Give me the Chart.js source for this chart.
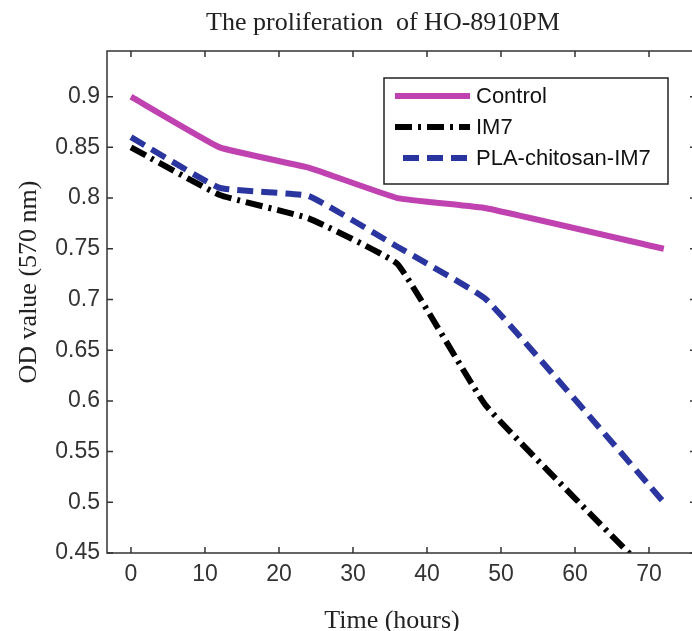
<!DOCTYPE html>
<html>
<head>
<meta charset="utf-8">
<script src="https://cdn.jsdelivr.net/npm/chart.js@4.4.1/dist/chart.umd.min.js"></script>
<style>
  html, body { margin: 0; padding: 0; background: #fff; overflow: hidden; }
  canvas { display: block; }
</style>
</head>
<body>
<canvas id="odChart" width="700" height="631"></canvas>
<script>
const hours = [0, 12, 24, 36, 48, 72];
const control = [0.90, 0.85, 0.83, 0.80, 0.79, 0.75];
const im7 = [0.85, 0.803, 0.78, 0.735, 0.595, 0.415];
const plaChitosan = [0.86, 0.81, 0.802, 0.752, 0.70, 0.50];
const seriesNames = ["Control", "IM7", "PLA-chitosan-IM7"];
const xTicks = [0, 10, 20, 30, 40, 50, 60, 70];
const yTicks = [0.45, 0.5, 0.55, 0.6, 0.65, 0.7, 0.75, 0.8, 0.85, 0.9];

function toPoints(values) {
  return hours.map((h, i) => ({ x: h, y: values[i] }));
}

// matlab-like box with inward ticks, legend box and the text labels
const framePlugin = {
  id: "frame",
  afterDatasetsDraw(chart) {
    const { ctx, chartArea: a, scales: { x, y } } = chart;
    ctx.save();
    ctx.strokeStyle = "#333";
    ctx.lineWidth = 1.5;
    ctx.strokeRect(a.left, a.top, a.right - a.left, a.bottom - a.top);
    ctx.beginPath();
    x.ticks.forEach(t => {
      const px = x.getPixelForValue(t.value);
      ctx.moveTo(px, a.bottom); ctx.lineTo(px, a.bottom - 6);
      ctx.moveTo(px, a.top); ctx.lineTo(px, a.top + 6);
    });
    y.ticks.forEach(t => {
      const py = y.getPixelForValue(t.value);
      ctx.moveTo(a.left, py); ctx.lineTo(a.left + 6, py);
      ctx.moveTo(a.right, py); ctx.lineTo(a.right - 6, py);
    });
    ctx.stroke();

    // legend
    ctx.fillStyle = "#fff";
    ctx.fillRect(384, 78, 284, 106);
    ctx.strokeStyle = "#222";
    ctx.lineWidth = 1.5;
    ctx.strokeRect(384, 78, 284, 106);
    const rows = [96, 127, 158];
    chart.data.datasets.forEach((ds, i) => {
      ctx.beginPath();
      ctx.strokeStyle = ds.borderColor;
      ctx.lineWidth = ds.borderWidth;
      ctx.setLineDash(ds.borderDash || []);
      ctx.moveTo(i === 2 ? 403 : 395, rows[i]);
      ctx.lineTo(470, rows[i]);
      ctx.stroke();
      ctx.setLineDash([]);
      ctx.fillStyle = "#111";
      ctx.font = '22px "Liberation Sans"';
      ctx.textAlign = "left";
      ctx.textBaseline = "middle";
      ctx.fillText(ds.label, 476, rows[i] + 1);
    });

    // title and axis titles
    ctx.fillStyle = "#222";
    ctx.font = '26px "Liberation Serif"';
    ctx.textAlign = "center";
    ctx.textBaseline = "middle";
    ctx.fillText("The proliferation  of HO-8910PM", 383, 23);
    ctx.fillText("Time (hours)", 392, 621);
    ctx.translate(29, 282);
    ctx.rotate(-Math.PI / 2);
    ctx.fillText("OD value (570 nm)", 0, 0);
    ctx.restore();
  }
};

function renderChart() {
  const ctx = document.getElementById("odChart").getContext("2d");
  new Chart(ctx, {
    type: "line",
    data: {
      datasets: [
        {
          label: seriesNames[0],
          data: toPoints(control),
          borderColor: "#c042b0",
          borderWidth: 6,
          pointRadius: 0,
          tension: 0.1,
          borderJoinStyle: "round"
        },
        {
          label: seriesNames[1],
          data: toPoints(im7),
          borderColor: "#000",
          borderWidth: 6,
          borderDash: [17, 6, 3, 6],
          pointRadius: 0,
          tension: 0.1
        },
        {
          label: seriesNames[2],
          data: toPoints(plaChitosan),
          borderColor: "#2a35a0",
          borderWidth: 6,
          borderDash: [16, 8],
          pointRadius: 0,
          tension: 0.1
        }
      ]
    },
    options: {
      responsive: false,
      animation: false,
      layout: { padding: { top: 51, right: 4, left: 0, bottom: 0 } },
      plugins: {
        legend: { display: false },
        tooltip: { enabled: false }
      },
      scales: {
        x: {
          type: "linear",
          min: -3.24,
          max: 76.35,
          afterBuildTicks: s => { s.ticks = xTicks.map(v => ({ value: v })); },
          afterFit: s => { s.height = 78; },
          grid: { display: false, drawTicks: false },
          border: { display: false },
          ticks: {
            color: "#333",
            padding: 8,
            maxRotation: 0,
            font: { family: "Liberation Sans", size: 23 }
          }
        },
        y: {
          min: 0.45,
          max: 0.945,
          afterBuildTicks: s => { s.ticks = yTicks.map(v => ({ value: v })); },
          afterFit: s => { s.width = 107; },
          grid: { display: false, drawTicks: false },
          border: { display: false },
          ticks: {
            color: "#333",
            padding: 7,
            font: { family: "Liberation Sans", size: 23 },
            callback: v => String(Math.round(v * 100) / 100)
          }
        }
      }
    },
    plugins: [framePlugin]
  });
}

window.addEventListener("DOMContentLoaded", renderChart);
</script>
</body>
</html>
